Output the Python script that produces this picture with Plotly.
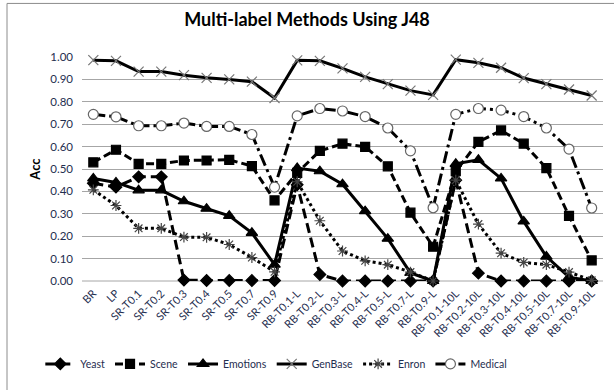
import plotly.graph_objects as go

# Method names along the x axis
methods = ["BR", "LP", "SR-T0.1", "SR-T0.2", "SR-T0.3", "SR-T0.4", "SR-T0.5",
           "SR-T0.7", "SR-T0.9", "RB-T0.1-L", "RB-T0.2-L", "RB-T0.3-L",
           "RB-T0.4-L", "RB-T0.5-L", "RB-T0.7-L", "RB-T0.9-L", "RB-T0.1-10L",
           "RB-T0.2-10L", "RB-T0.3-10L", "RB-T0.4-10L", "RB-T0.5-10L",
           "RB-T0.7-10L", "RB-T0.9-10L"]

# Accuracy per dataset
yeast = [0.436, 0.419, 0.465, 0.465, 0.004, 0.002, 0.002, 0.002, 0.002,
         0.430, 0.029, 0.0, 0.0, 0.0, 0.0, 0.0,
         0.450, 0.035, 0.0, 0.0, 0.0, 0.0, 0.0]
scene = [0.530, 0.586, 0.523, 0.523, 0.538, 0.538, 0.541, 0.513, 0.360,
         0.483, 0.581, 0.613, 0.599, 0.512, 0.305, 0.153,
         0.490, 0.621, 0.672, 0.613, 0.504, 0.291, 0.092]
emotions = [0.458, 0.440, 0.405, 0.405, 0.356, 0.323, 0.291, 0.215, 0.073,
            0.504, 0.490, 0.432, 0.312, 0.189, 0.036, 0.0,
            0.523, 0.541, 0.458, 0.266, 0.109, 0.017, 0.0]
genbase = [0.986, 0.983, 0.935, 0.935, 0.919, 0.907, 0.900, 0.890, 0.817,
           0.985, 0.983, 0.949, 0.911, 0.879, 0.850, 0.831,
           0.988, 0.974, 0.952, 0.906, 0.879, 0.855, 0.828]
enron = [0.407, 0.337, 0.235, 0.235, 0.196, 0.195, 0.163, 0.105, 0.041,
         0.443, 0.269, 0.134, 0.090, 0.073, 0.040, 0.0,
         0.450, 0.254, 0.124, 0.083, 0.073, 0.040, 0.003]
medical = [0.744, 0.733, 0.693, 0.693, 0.705, 0.690, 0.690, 0.654, 0.419,
           0.737, 0.770, 0.759, 0.734, 0.683, 0.581, 0.327,
           0.744, 0.770, 0.763, 0.734, 0.683, 0.589, 0.326]

y_ticks = [0.0, 0.1, 0.2, 0.3, 0.4, 0.5, 0.6, 0.7, 0.8, 0.9, 1.0]

FONT = "Lato, 'Open Sans', sans-serif"
TEXT = "#1f2e4f"

fig = go.Figure()


def add(name, y, dash, symbol, size, fill, edge, width=3):
    fig.add_trace(go.Scatter(
        x=methods, y=y, name=name, mode="lines+markers",
        line=dict(color="black", width=width, dash=dash),
        marker=dict(symbol=symbol, size=size, color=fill,
                    line=dict(color=edge, width=1.2)),
        cliponaxis=False,
    ))


add("Yeast", yeast, "10px,5px", "diamond", 9, "black", "black")
add("Scene", scene, "8px,4px", "square", 9, "black", "black")
add("Emotions", emotions, "solid", "triangle-up", 10, "black", "black")
add("GenBase", genbase, "solid", "x-thin-open", 10, "#777777", "#777777")
add("Enron", enron, "dot", "asterisk-open", 9, "#444444", "#444444")
add("Medical", medical, "12px,4px,3px,4px", "circle", 10, "white", "#666666")

fig.update_layout(
    width=614, height=390,
    paper_bgcolor="white", plot_bgcolor="white",
    margin=dict(l=82, r=11, t=57, b=103),
    font=dict(family=FONT, size=11, color=TEXT),
    title=dict(text="<b>Multi-label Methods Using J48</b>",
               x=0.5, xref="container", xanchor="center",
               y=1 - 20 / 390, yref="container", yanchor="middle",
               font=dict(family=FONT, size=18, color="black")),
    showlegend=True,
    legend=dict(orientation="h", x=-0.08, xanchor="left",
                y=-0.37, yanchor="middle",
                font=dict(family=FONT, size=10.5, color=TEXT),
                bgcolor="rgba(0,0,0,0)", itemwidth=30),
    xaxis=dict(type="category", range=[-0.5, len(methods) - 0.5],
               tickangle=-45, showgrid=False, showline=False, zeroline=False,
               ticks="", ticklabelstandoff=3,
               tickfont=dict(family=FONT, size=11, color=TEXT)),
    yaxis=dict(range=[0, 1.0], tickvals=y_ticks,
               ticktext=[f"{v:.2f}" for v in y_ticks],
               showgrid=True, gridcolor="#a6a6a6", gridwidth=1,
               zeroline=False, showline=False, ticks="",
               ticklabelstandoff=8,
               tickfont=dict(family=FONT, size=11.5, color=TEXT),
               title=dict(text="<b>Acc</b>", standoff=6,
                          font=dict(family=FONT, size=13, color="black"))),
    shapes=[dict(type="line", xref="paper", yref="paper",
                 x0=0, x1=1, y0=0, y1=0,
                 line=dict(color="#a6a6a6", width=1), layer="below"),
            dict(type="rect", xref="paper", yref="paper",
                 x0=(7 - 82) / 521, x1=1.2, y0=-0.5, y1=(287 - 2) / 230,
                 line=dict(color="#8c8c8c", width=1), layer="below")],
)

fig.write_html("out.html")
